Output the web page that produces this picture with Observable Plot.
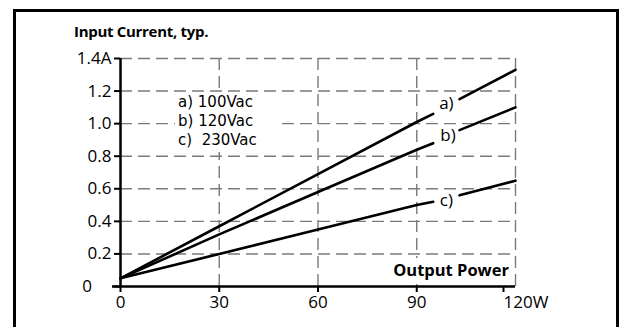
<!DOCTYPE html>
<html>
<head>
<meta charset="utf-8">
<script src="https://cdn.jsdelivr.net/npm/d3@7"></script>
<script src="https://cdn.jsdelivr.net/npm/@observablehq/plot@0.6"></script>
<style>
  html, body { margin: 0; padding: 0; background: #fff; width: 621px; height: 327px; overflow: hidden; }
  #wrap { position: relative; width: 621px; height: 327px; font-family: "Open Sans", sans-serif; }
  #frame { position: absolute; left: 13px; top: 9px; width: 600px; height: 400px; border: 3px solid #000; }
  #title { position: absolute; left: 74px; top: 21px; font-weight: bold; font-size: 15px; line-height: 20px; letter-spacing: -0.3px; white-space: nowrap; }
  #legend { position: absolute; left: 175px; top: 93px; width: 103px; height: 59px; background: #fff; font-family: "DejaVu Sans", sans-serif; font-size: 15px; line-height: 19px; padding-left: 3px; box-sizing: border-box; padding-top: 0px; white-space: nowrap; }
  #power { position: absolute; left: 390px; top: 258px; width: 122px; height: 26px; background: #fff; font-weight: bold; font-size: 16.5px; text-align: right; line-height: 24px; padding-right: 3px; box-sizing: border-box; white-space: nowrap; }
  #chart svg { position: absolute; left: 0; top: 0; }
  #chart svg text { font-size: 17px !important; font-family: "Open Sans", sans-serif !important; }
</style>
</head>
<body>
<div id="wrap">
  <div id="chart"></div>
  <div id="frame"></div>
  <div id="title">Input Current, typ.</div>
  <div id="legend"></div>
  <div id="power">Output Power</div>
</div>
<script>
// Tick values
const xTicks = [0, 30, 60, 90, 120];
const yTicks = [0, 0.2, 0.4, 0.6, 0.8, 1.0, 1.2, 1.4];

// Series (output power W -> input current A), split at label gap
const seriesNames = ["a)", "b)", "c)"];
const legendLabels = ["a) 100Vac", "b) 120Vac", "c)\u00a0 230Vac"];
const powerSeg1 = [0, 30, 60, 90, 95];
const powerSeg2 = [103, 120];
const currentA1 = [0.05, 0.37, 0.69, 1.01, 1.06];
const currentA2 = [1.15, 1.33];
const currentB1 = [0.05, 0.32, 0.58, 0.84, 0.88];
const currentB2 = [0.96, 1.10];
const currentC1 = [0.05, 0.20, 0.35, 0.50, 0.52];
const currentC2 = [0.56, 0.65];

// Curve label positions (data units)
const labelPower = [99, 99.5, 99];
const labelCurrent = [1.125, 0.925, 0.53];

const rows = [];
[[currentA1, currentA2], [currentB1, currentB2], [currentC1, currentC2]].forEach(([s1, s2], i) => {
  powerSeg1.forEach((p, j) => rows.push({seg: seriesNames[i] + "1", p, c: s1[j]}));
  powerSeg2.forEach((p, j) => rows.push({seg: seriesNames[i] + "2", p, c: s2[j]}));
});
const labels = seriesNames.map((n, i) => ({n, p: labelPower[i], c: labelCurrent[i]}));

const gridStyle = {stroke: "#7a7a7a", strokeWidth: 1.4, strokeDasharray: "12,6"};

const chart = Plot.plot({
  width: 621,
  height: 327,
  marginLeft: 120,
  marginRight: 106,
  marginTop: 58,
  marginBottom: 41,
  style: {fontFamily: "Open Sans, sans-serif", fontSize: "17px", background: "transparent", overflow: "visible"},
  x: {domain: [0, 120]},
  y: {domain: [0, 1.4]},
  marks: [
    Plot.ruleY(yTicks.filter(d => d > 0), gridStyle),
    Plot.ruleX(xTicks.filter(d => d > 0), gridStyle),
    Plot.line(rows, {x: "p", y: "c", z: "seg", stroke: "#000", strokeWidth: 2.6}),
    Plot.text(labels, {x: "p", y: "c", text: "n", fontSize: 17, fill: "#000"}),
    Plot.ruleX([0], {stroke: "#000", strokeWidth: 2.5}),
    Plot.ruleY([0], {stroke: "#000", strokeWidth: 2.5, insetLeft: -8}),
    Plot.axisY({
      ticks: yTicks, tickSize: 6, tickPadding: 3, fontSize: 17, label: null, strokeWidth: 2,
      tickFormat: d => d === 0 ? "0\u2007\u2007" : d === 1.4 ? "1.4A" : d3.format(".1f")(d)
    }),
    Plot.axisX({
      ticks: xTicks.filter(d => d < 120), tickSize: 6, tickPadding: 3, fontSize: 17, label: null, strokeWidth: 2
    }),
    Plot.axisX({
      ticks: [120], tickSize: 6, tickPadding: 3, fontSize: 17, label: null, strokeWidth: 2,
      textAnchor: "start", dx: -12, tickFormat: d => d + "W"
    })
  ]
});
document.getElementById("chart").appendChild(chart);
document.getElementById("legend").innerHTML = legendLabels.map(t => `<div>${t}</div>`).join("");
</script>
</body>
</html>
